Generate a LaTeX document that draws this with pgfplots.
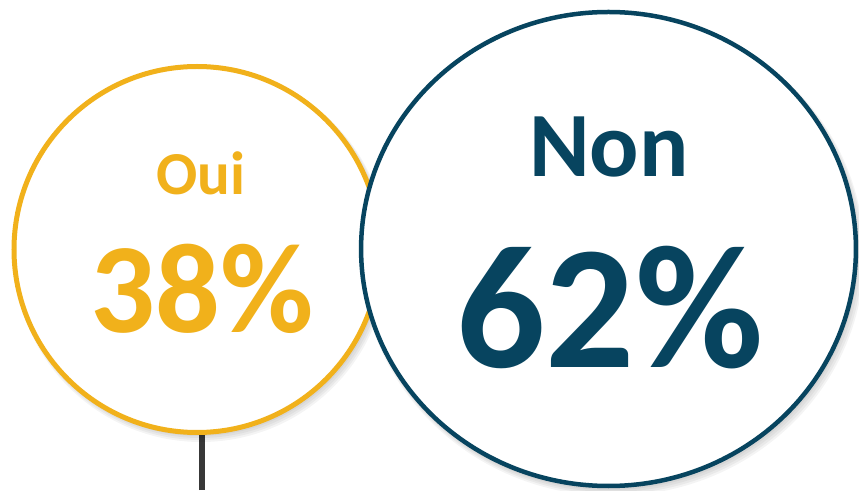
\documentclass[border=0pt]{standalone}
\usepackage{fontspec}
\setmainfont{Carlito}
\usepackage{pgfplots}
\pgfplotsset{compat=1.18}
\definecolor{oui}{HTML}{F1B11B}
\definecolor{non}{HTML}{07445F}
\definecolor{stem}{HTML}{383838}
\pgfplotsset{shadow/.style={only marks, mark=*, color=black, draw opacity=0, fill opacity=0.045,
   every mark/.append style={draw opacity=0, fill opacity=0.045, line width=0pt}}}
\begin{document}
\begin{tikzpicture}
\begin{axis}[width=859pt, height=490pt, scale only axis,
  xmin=0, xmax=859, ymin=0, ymax=490,
  axis lines=none, ticks=none, clip=true, clip marker paths=true]
% stem below the Oui bubble
\addplot[stem, line width=6pt, no marks] coordinates {(202,0) (202,55)};
% Oui bubble (38 %) with soft shadow
\addplot[shadow, mark size=187pt] coordinates {(201,235)};
\addplot[shadow, mark size=186pt] coordinates {(200.5,236)};
\addplot[shadow, mark size=185pt] coordinates {(200,237)};
\addplot[shadow, mark size=184pt] coordinates {(199,238)};
\addplot[only marks, mark=*, mark size=183pt, draw=oui, fill=white, line width=5pt] coordinates {(197,240.5)};
% Non bubble (62 %) with soft shadow
\addplot[shadow, mark size=241pt, every mark/.append style={xscale=1.044}] coordinates {(612.5,235)};
\addplot[shadow, mark size=240pt, every mark/.append style={xscale=1.044}] coordinates {(612,236)};
\addplot[shadow, mark size=239pt, every mark/.append style={xscale=1.044}] coordinates {(611,237)};
\addplot[shadow, mark size=238pt, every mark/.append style={xscale=1.044}] coordinates {(610,238)};
\addplot[only marks, mark=*, mark size=237pt, draw=non, fill=white, line width=4.5pt, mark options={xscale=1.044}] coordinates {(608.5,241)};
\node[anchor=base, inner sep=0pt, text=oui, font=\bfseries\fontsize{61}{61}\selectfont] at (axis cs:201,295) {Oui};
\node[anchor=base, inner sep=0pt, text=oui, font=\bfseries\fontsize{128}{128}\selectfont] at (axis cs:202,157) {38\%};
\node[anchor=base, inner sep=0pt, text=non, font=\bfseries\fontsize{92}{92}\selectfont] at (axis cs:609,313) {Non};
\node[anchor=base, inner sep=0pt, text=non, font=\bfseries\fontsize{176}{176}\selectfont] at (axis cs:610,122) {62\%};
\end{axis}
\pgfresetboundingbox
\path (current axis.south west) rectangle (current axis.north east);
\end{tikzpicture}
\end{document}
